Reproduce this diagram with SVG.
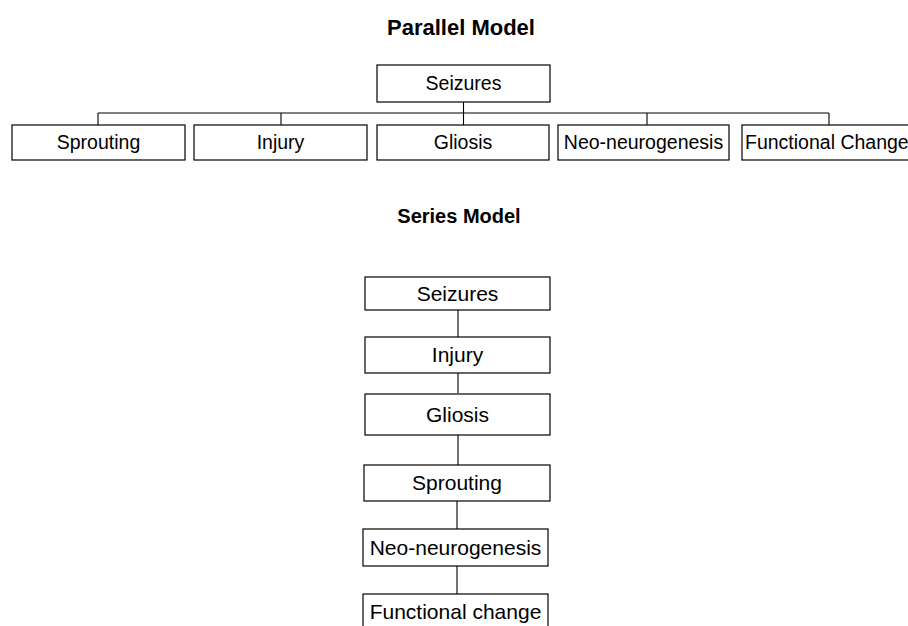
<svg xmlns="http://www.w3.org/2000/svg" width="908" height="626" viewBox="0 0 908 626">
<style>
.box{fill:#fff;stroke:#000;stroke-width:1.2}
.t{font-family:"Liberation Sans",Arial,sans-serif;font-size:19.5px;text-anchor:middle;fill:#000}
.s{font-family:"Liberation Sans",Arial,sans-serif;font-size:21px;text-anchor:middle;fill:#000}
.h{font-family:"Liberation Sans",Arial,sans-serif;font-weight:bold;text-anchor:middle;fill:#000}
.c{stroke:#000;stroke-width:1.1;fill:none}
</style>
<rect width="908" height="626" fill="#fff"/>
<text class="h" x="461" y="35" style="font-size:22px">Parallel Model</text>
<text class="h" x="459" y="223" style="font-size:20px">Series Model</text>
<g id="connectors">
<path class="c" d="M463.5 102V113M98 113H829M98 113V125M281 113V125M463.5 113V125M647 113V125M829 113V125"/>
<path class="c" d="M458 310V337M458 373V393M458 435V465M457 501V529M457 566V594"/>
</g>
<g id="p-seizures"><rect class="box" x="377" y="65" width="173" height="37"/><text class="t" x="463.5" y="90">Seizures</text></g>
<g id="p-sprouting"><rect class="box" x="12" y="125" width="173" height="35"/><text class="t" x="98.5" y="149">Sprouting</text></g>
<g id="p-injury"><rect class="box" x="194" y="125" width="173" height="35"/><text class="t" x="280.5" y="149">Injury</text></g>
<g id="p-gliosis"><rect class="box" x="377" y="125" width="172" height="35"/><text class="t" x="463" y="149">Gliosis</text></g>
<g id="p-neo"><rect class="box" x="558" y="125" width="171" height="35"/><text class="t" x="643.5" y="149">Neo-neurogenesis</text></g>
<g id="p-functional"><rect class="box" x="742" y="125" width="176" height="35"/><text class="t" x="745" y="149" style="text-anchor:start">Functional Change</text></g>
<g id="s-seizures"><rect class="box" x="365" y="277" width="185" height="33"/><text class="s" x="457.5" y="301">Seizures</text></g>
<g id="s-injury"><rect class="box" x="365" y="337" width="185" height="36"/><text class="s" x="457.5" y="362">Injury</text></g>
<g id="s-gliosis"><rect class="box" x="365" y="394" width="185" height="41"/><text class="s" x="457.5" y="422">Gliosis</text></g>
<g id="s-sprouting"><rect class="box" x="364" y="465" width="186" height="36"/><text class="s" x="457" y="490">Sprouting</text></g>
<g id="s-neo"><rect class="box" x="363" y="529" width="185" height="37"/><text class="s" x="455.5" y="555">Neo-neurogenesis</text></g>
<g id="s-functional"><rect class="box" x="363" y="594" width="185" height="40"/><text class="s" x="455.5" y="619">Functional change</text></g>
</svg>
